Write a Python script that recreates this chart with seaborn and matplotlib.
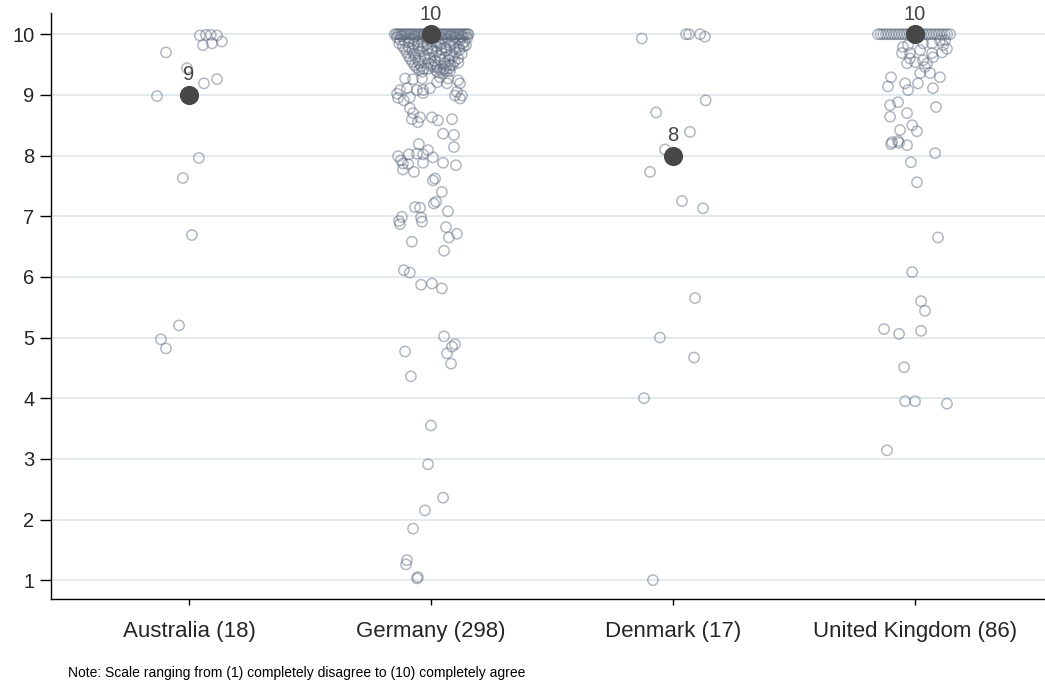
import pandas as pd
import seaborn as sns
import matplotlib.pyplot as plt

COUNTRIES = ["Australia (18)", "Germany (298)", "Denmark (17)", "United Kingdom (86)"]
MEDIANS = [9, 10, 8, 10]
NOTE = "Note: Scale ranging from (1) completely disagree to (10) completely agree"

# Australia (jitter in category units, score as plotted)
aus_jitter = [0.045, 0.070, 0.090, 0.116, 0.058, 0.095, 0.136, -0.095, -0.008,
              0.062, 0.116, -0.132, 0.041, -0.025, 0.012, -0.041, -0.116, -0.095]
aus_score = [9.98, 9.99, 9.99, 9.98, 9.82, 9.85, 9.88, 9.70, 9.44,
             9.19, 9.26, 8.98, 7.96, 7.63, 6.69, 5.20, 4.97, 4.82]

# Germany: points sitting exactly on 10
ger_band_jitter = [-0.150, -0.143, -0.136, -0.129, -0.122, -0.115, -0.108, -0.101, -0.094,
                   -0.087, -0.080, -0.073, -0.066, -0.059, -0.052, -0.045, -0.038, -0.031,
                   -0.024, -0.017, -0.010, -0.003, 0.004, 0.011, 0.018, 0.025, 0.032,
                   0.039, 0.046, 0.053, 0.060, 0.067, 0.074, 0.081, 0.088, 0.095,
                   0.102, 0.109, 0.116, 0.123, 0.130, 0.137, 0.144, 0.151, 0.155]

# Germany: the rest
ger_jitter = [
    -0.141, -0.121, -0.088, -0.066, -0.031, -0.012, 0.024, 0.045, 0.081, 0.099, 0.128, 0.150,
    -0.128, -0.109, -0.074, -0.053, -0.019, 0.009, 0.031, 0.067, 0.086, 0.121, 0.139,
    -0.131, -0.093, -0.070, -0.036, -0.015, 0.019, 0.040, 0.075, 0.095, 0.130, 0.145,
    -0.116, -0.091, -0.055, -0.032, 0.003, 0.024, 0.059, 0.080, 0.115, 0.135,
    -0.108, -0.077, -0.050, -0.015, 0.006, 0.042, 0.064, 0.098, 0.118,
    -0.100, -0.070, -0.044, -0.009, 0.022, 0.044, 0.079, 0.103, 0.127,
    -0.092, -0.065, -0.026, -0.003, 0.035, 0.057, 0.091, 0.112,
    -0.085, -0.051, -0.025, 0.015, 0.038, 0.075, 0.097,
    -0.076, -0.049, -0.010, 0.017, 0.056, 0.080, 0.113,
    -0.068, -0.040, 0.000, 0.026, 0.064, 0.089,
    -0.059, -0.030, 0.010, 0.037, 0.076,
    -0.048, -0.013, 0.021, 0.053, 0.078,
    -0.036, 0.028, 0.063,
    -0.107, -0.074, -0.099, -0.128, -0.140, -0.136, -0.112, -0.087, -0.058, -0.037,
    -0.033, -0.033, -0.004, -0.087, 0.112, 0.120, 0.107, 0.128, 0.120, 0.099,
    0.037, 0.025, 0.050, 0.070, 0.066,
    -0.079, -0.054, -0.045, 0.004, 0.029, 0.087, -0.074,
    0.050, 0.095, 0.095, -0.050, -0.012, -0.091, -0.058, -0.033, -0.136, -0.124,
    -0.116, -0.116, -0.095, -0.070, -0.033, 0.008, 0.050, 0.103, 0.008, 0.017,
    0.045, 0.021, 0.012,
    -0.066, -0.045, 0.070, -0.120, -0.132, -0.128, -0.041, -0.037, 0.062, 0.074,
    0.107, -0.079, 0.054, -0.112, -0.087, -0.041, 0.004, 0.045, 0.054, 0.099,
    0.087, 0.066, 0.083, -0.107, -0.083, 0.000, -0.012, 0.050, -0.025, -0.074,
    -0.099, -0.103, -0.058, -0.054,
]
ger_score = [
    9.95, 9.97, 9.93, 9.96, 9.98, 9.94, 9.96, 9.93, 9.97, 9.95, 9.96, 9.94,
    9.91, 9.89, 9.92, 9.88, 9.93, 9.90, 9.87, 9.92, 9.89, 9.91, 9.88,
    9.85, 9.87, 9.83, 9.86, 9.84, 9.87, 9.83, 9.86, 9.84, 9.85, 9.82,
    9.80, 9.78, 9.81, 9.79, 9.77, 9.80, 9.78, 9.81, 9.79, 9.80,
    9.75, 9.73, 9.76, 9.74, 9.72, 9.75, 9.73, 9.76, 9.74,
    9.70, 9.68, 9.71, 9.67, 9.70, 9.69, 9.66, 9.70, 9.68,
    9.64, 9.62, 9.65, 9.61, 9.64, 9.62, 9.63, 9.60,
    9.59, 9.57, 9.60, 9.56, 9.58, 9.57, 9.55,
    9.54, 9.52, 9.53, 9.50, 9.52, 9.49, 9.53,
    9.49, 9.47, 9.50, 9.46, 9.48, 9.49,
    9.45, 9.43, 9.46, 9.42, 9.44,
    9.41, 9.43, 9.40, 9.42, 9.39,
    9.38, 9.37, 9.39,
    9.27, 9.26, 9.11, 9.08, 9.02, 8.95, 8.91, 8.96, 9.08, 9.27,
    9.08, 9.03, 9.11, 8.78, 9.24, 9.19, 9.05, 8.99, 8.94, 8.99,
    9.29, 9.21, 9.36, 9.27, 9.19,
    8.60, 8.55, 8.63, 8.63, 8.58, 8.60, 8.70,
    8.36, 8.34, 8.14, 8.19, 8.09, 8.02, 8.03, 8.02, 7.99, 7.92,
    7.87, 7.77, 7.86, 7.73, 7.88, 7.97, 7.88, 7.84, 7.59, 7.62,
    7.40, 7.24, 7.21,
    7.15, 7.14, 7.08, 6.99, 6.92, 6.87, 6.98, 6.91, 6.82, 6.65,
    6.71, 6.58, 6.43, 6.11, 6.07, 5.87, 5.89, 5.81, 5.02, 4.89,
    4.85, 4.74, 4.57, 4.77, 4.36, 3.55, 2.91, 2.36, 2.15, 1.85,
    1.33, 1.26, 1.03, 1.05,
]

# Denmark
den_jitter = [-0.129, 0.054, 0.066, 0.112, 0.132, 0.135, -0.070, 0.070, -0.033,
              -0.095, 0.037, 0.124, 0.091, -0.054, 0.087, -0.120, -0.083]
den_score = [9.93, 10.0, 10.0, 10.0, 9.96, 8.91, 8.71, 8.39, 8.10,
             7.73, 7.25, 7.13, 5.65, 5.00, 4.67, 4.00, 1.00]

# United Kingdom: points sitting exactly on 10
uk_band_jitter = [-0.153, -0.142, -0.131, -0.120, -0.109, -0.098, -0.087, -0.076, -0.065,
                  -0.054, -0.043, -0.032, -0.021, -0.010, 0.001, 0.012, 0.023, 0.034,
                  0.045, 0.056, 0.067, 0.078, 0.089, 0.100, 0.111, 0.122, 0.133, 0.145]

# United Kingdom: the rest
uk_jitter = [-0.050, -0.029, -0.054, -0.021, 0.021, 0.033, 0.070, 0.103, 0.116, 0.112,
             0.070, -0.033, -0.021, 0.000, 0.033, 0.050, 0.074, 0.041, 0.021, 0.062,
             0.103, -0.099, -0.112, -0.041, -0.029, 0.012, 0.074, -0.103, -0.070, -0.103,
             -0.033, 0.087, -0.062, -0.012, 0.008, -0.095, -0.099, -0.070, -0.066, -0.033,
             0.083, -0.017, 0.008, 0.095, -0.012, 0.025, 0.041, -0.128, -0.066, 0.025,
             -0.045, -0.041, 0.000, 0.132, -0.116, 0.132, 0.124]
uk_score = [9.79, 9.82, 9.69, 9.69, 9.74, 9.85, 9.85, 9.90, 9.82, 9.70,
            9.69, 9.52, 9.60, 9.54, 9.57, 9.52, 9.62, 9.46, 9.36, 9.36,
            9.29, 9.29, 9.14, 9.19, 9.08, 9.19, 9.11, 8.83, 8.88, 8.64,
            8.70, 8.80, 8.42, 8.50, 8.40, 8.22, 8.19, 8.24, 8.21, 8.17,
            8.04, 7.89, 7.56, 6.65, 6.08, 5.60, 5.44, 5.14, 5.06, 5.11,
            4.51, 3.95, 3.95, 3.91, 3.14, 9.76, 9.90]

# Prepare data
groups = [
    (aus_jitter, aus_score),
    (ger_band_jitter, [10.0] * len(ger_band_jitter)),
    (ger_jitter, ger_score),
    (den_jitter, den_score),
    (uk_band_jitter, [10.0] * len(uk_band_jitter)),
    (uk_jitter, uk_score),
]
group_pos = [0, 1, 1, 2, 3, 3]
rows = []
for pos, (jit, score) in zip(group_pos, groups):
    for j, s in zip(jit, score):
        rows.append({"pos": pos + j, "score": s})
df = pd.DataFrame(rows)
med = pd.DataFrame({"pos": range(len(COUNTRIES)), "score": MEDIANS})

# Plot
sns.set_theme(style="white")
plt.rcParams["font.family"] = ["Liberation Sans", "DejaVu Sans"]

fig = plt.figure(figsize=(10.45, 6.84), dpi=100)
ax = fig.add_axes([0.0488, 0.1243, 0.9512, 0.8567])

sns.scatterplot(data=df, x="pos", y="score", ax=ax, s=55, marker="o",
                facecolor="none", edgecolor=(0.36, 0.41, 0.49), linewidth=1.1,
                alpha=0.47, zorder=3, legend=False)
sns.scatterplot(data=med, x="pos", y="score", ax=ax, s=190, marker="o",
                color="#474747", edgecolor="#474747", linewidth=0, zorder=5, legend=False)
for i, m in enumerate(MEDIANS):
    ax.annotate(str(m), (i, m), xytext=(0, 7.5), textcoords="offset points",
                ha="center", va="bottom", fontsize=14.5, color="#444444", zorder=6)

ax.set_xlim(-0.570, 3.537)
ax.set_ylim(0.69, 10.35)
ax.set_xticks(range(len(COUNTRIES)))
ax.set_xticklabels(COUNTRIES)
ax.set_yticks(range(1, 11))
ax.set_xlabel("")
ax.set_ylabel("")

ax.yaxis.grid(True, color="#e2eaee", linewidth=1.4)
ax.xaxis.grid(False)
ax.set_axisbelow(True)
for side in ["top", "right"]:
    ax.spines[side].set_visible(False)
for side in ["left", "bottom"]:
    ax.spines[side].set_color("black")
    ax.spines[side].set_linewidth(1.0)

ax.tick_params(axis="y", length=8, width=1, color="black", direction="out",
               labelsize=14.5, pad=4, left=True)
ax.tick_params(axis="x", length=4, width=1, color="black", direction="out",
               labelsize=16, pad=12, bottom=True)

fig.text(68 / 1045, 1 - 673 / 684, NOTE, fontsize=10, va="center", ha="left", color="black")

plt.savefig("out.png", dpi=100)
